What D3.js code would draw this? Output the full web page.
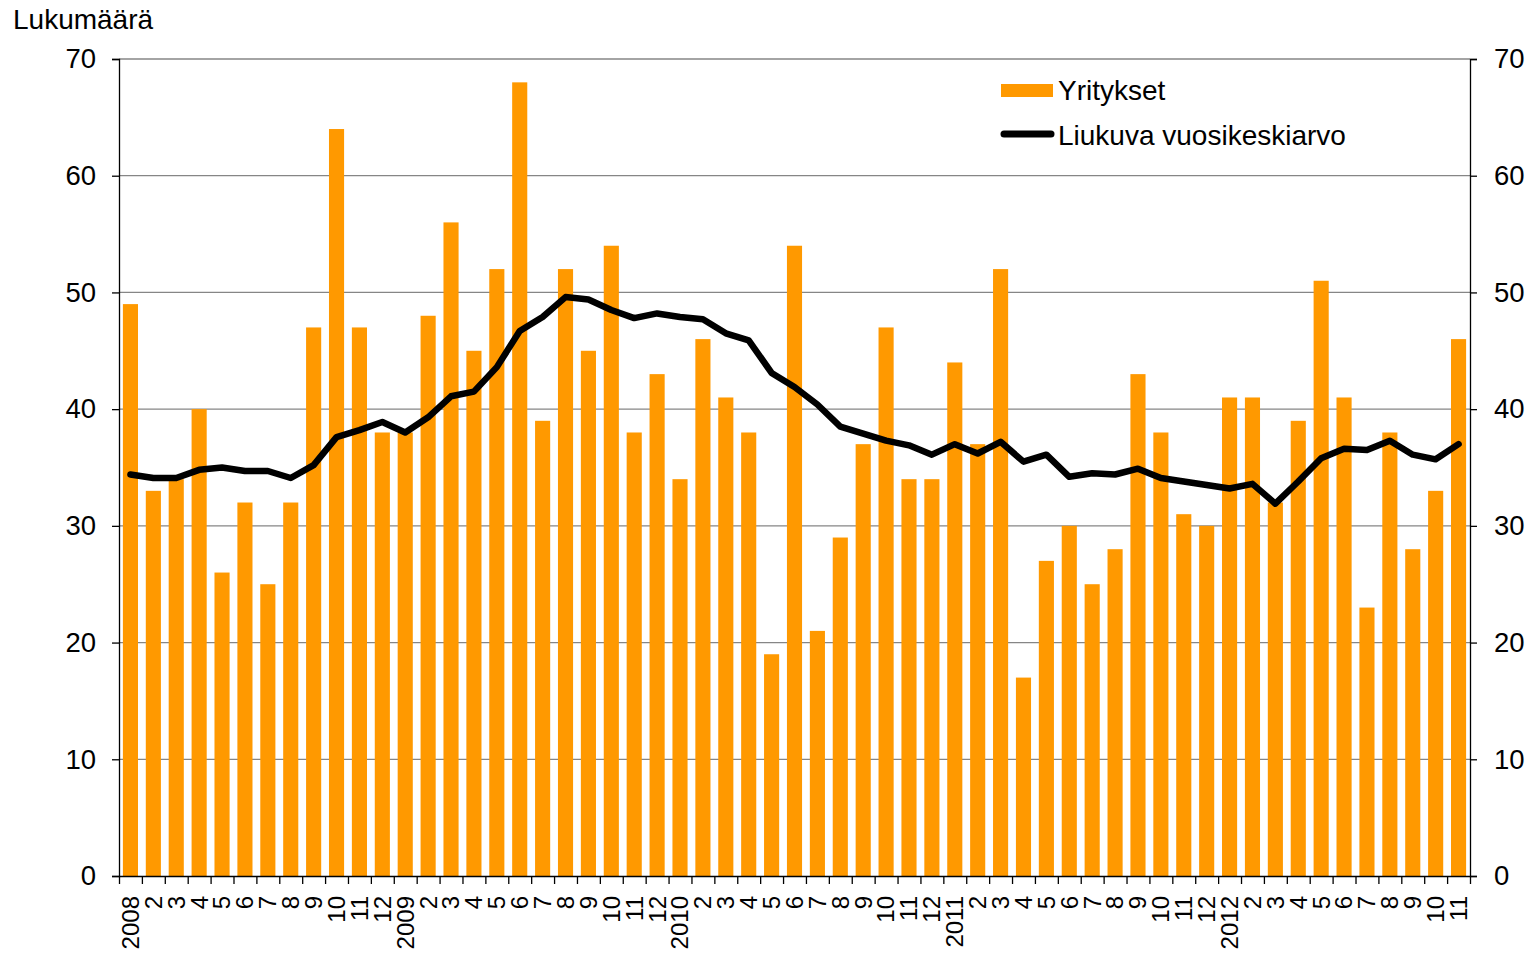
<!DOCTYPE html>
<html>
<head>
<meta charset="utf-8">
<script src="https://cdn.jsdelivr.net/npm/d3@7"></script>
<style>
  body { margin: 0; background: #fff; }
  text { font-family: "Liberation Sans", Arial, sans-serif; }
</style>
</head>
<body>
<div id="chart"></div>
<script>
// Data
var monthLabels = ["2008","2","3","4","5","6","7","8","9","10","11","12",
                   "2009","2","3","4","5","6","7","8","9","10","11","12",
                   "2010","2","3","4","5","6","7","8","9","10","11","12",
                   "2011","2","3","4","5","6","7","8","9","10","11","12",
                   "2012","2","3","4","5","6","7","8","9","10","11"];

var yritykset = [49,33,34,40,26,32,25,32,47,64,47,38,
                 38,48,56,45,52,68,39,52,45,54,38,43,
                 34,46,41,38,19,54,21,29,37,47,34,34,
                 44,37,52,17,27,30,25,28,43,38,31,30,
                 41,41,32,39,51,41,23,38,28,33,46];

var liukuva = [34.4,34.1,34.1,34.8,35.0,34.7,34.7,34.1,35.2,37.6,38.2,38.9,
               38.0,39.3,41.1,41.5,43.6,46.7,47.9,49.6,49.4,48.5,47.8,48.2,
               47.9,47.7,46.5,45.9,43.1,41.9,40.4,38.5,37.9,37.3,36.9,36.1,
               37.0,36.2,37.2,35.5,36.1,34.2,34.5,34.4,34.9,34.1,33.8,33.5,
               33.2,33.6,31.9,33.8,35.8,36.6,36.5,37.3,36.1,35.7,37.0];

var yTicks = [0,10,20,30,40,50,60,70];
var seriesNames = ["Yritykset", "Liukuva vuosikeskiarvo"];

// Size
var svgWidth = 1535;
var svgHeight = 953;
var margin = { top: 59, right: 65, bottom: 77, left: 119 };
var width = svgWidth - margin.left - margin.right;
var height = svgHeight - margin.top - margin.bottom;

var svg = d3.select("#chart")
    .append("svg")
    .attr("width", svgWidth)
    .attr("height", svgHeight);

var chartGroup = svg.append("g")
    .attr("transform", `translate(${margin.left}, ${margin.top})`);

// Scales
var idx = d3.range(yritykset.length);
var xBand = d3.scaleBand()
    .domain(idx)
    .range([0, width])
    .paddingInner(0.34)
    .paddingOuter(0.17);

var xEdge = d3.scaleLinear()
    .domain([0, yritykset.length])
    .range([0, width]);

var yScale = d3.scaleLinear()
    .domain([0, 70])
    .range([height, 0]);

// Gridlines
chartGroup.append("g")
    .selectAll("line")
    .data(yTicks.filter(d => d > 0))
    .enter()
    .append("line")
    .attr("x1", 0)
    .attr("x2", width)
    .attr("y1", d => yScale(d))
    .attr("y2", d => yScale(d))
    .attr("stroke", "#868686")
    .attr("stroke-width", 1.3);

// Bars
chartGroup.append("g")
    .selectAll("rect")
    .data(yritykset)
    .enter()
    .append("rect")
    .attr("x", (d, i) => xBand(i))
    .attr("width", xBand.bandwidth())
    .attr("y", d => yScale(d))
    .attr("height", d => height - yScale(d))
    .attr("fill", "#FF9900");

// Line
var line = d3.line()
    .x((d, i) => xBand(i) + xBand.bandwidth() / 2)
    .y(d => yScale(d));

chartGroup.append("path")
    .datum(liukuva)
    .attr("d", line)
    .attr("fill", "none")
    .attr("stroke", "#000")
    .attr("stroke-width", 6.5)
    .attr("stroke-linejoin", "round")
    .attr("stroke-linecap", "round");

// Axes
var leftAxis = d3.axisLeft(yScale).tickValues(yTicks).tickSize(7).tickPadding(16);
var rightAxis = d3.axisRight(yScale).tickValues(yTicks).tickSize(7).tickPadding(17);

var gLeft = chartGroup.append("g").call(leftAxis);
var gRight = chartGroup.append("g")
    .attr("transform", `translate(${width}, 0)`)
    .call(rightAxis);

[gLeft, gRight].forEach(g => {
    g.select(".domain").attr("stroke", "#000").attr("stroke-width", 1.3);
    g.selectAll(".tick line").attr("stroke", "#000").attr("stroke-width", 1.3);
    g.selectAll("text")
        .attr("font-size", "27.5px")
        .attr("fill", "#000")
        .style("font-family", "'Liberation Sans', Arial, sans-serif");
});

// Bottom ticks at category edges
var edgeAxis = d3.axisBottom(xEdge)
    .tickValues(d3.range(yritykset.length + 1))
    .tickFormat("")
    .tickSize(8)
    .tickSizeOuter(0);

var gEdge = chartGroup.append("g")
    .attr("transform", `translate(0, ${height})`)
    .call(edgeAxis);
gEdge.select(".domain").attr("stroke", "#000").attr("stroke-width", 1.5);
gEdge.selectAll(".tick line").attr("stroke", "#000").attr("stroke-width", 1.3);

// Bottom labels
var labelAxis = d3.axisBottom(xBand)
    .tickFormat(i => monthLabels[i])
    .tickSize(0)
    .tickPadding(0);

var gLabels = chartGroup.append("g")
    .attr("transform", `translate(0, ${height})`)
    .call(labelAxis);
gLabels.select(".domain").remove();
gLabels.selectAll("text")
    .attr("font-size", "24px")
    .attr("fill", "#000")
    .style("font-family", "'Liberation Sans', Arial, sans-serif")
    .attr("text-anchor", "end")
    .attr("x", 0)
    .attr("y", 0)
    .attr("dy", "0.35em")
    .attr("transform", "translate(0, 20) rotate(-90)");

// Title
svg.append("text")
    .attr("x", 13)
    .attr("y", 29)
    .attr("font-size", "28px")
    .attr("fill", "#000")
    .text("Lukumäärä");

// Legend
var legend = svg.append("g");
legend.append("rect")
    .attr("x", 1001)
    .attr("y", 84)
    .attr("width", 52)
    .attr("height", 13)
    .attr("fill", "#FF9900");
legend.append("text")
    .attr("x", 1058)
    .attr("y", 100)
    .attr("font-size", "28px")
    .attr("fill", "#000")
    .text(seriesNames[0]);
legend.append("line")
    .attr("x1", 1004)
    .attr("x2", 1051)
    .attr("y1", 134)
    .attr("y2", 134)
    .attr("stroke", "#000")
    .attr("stroke-width", 7)
    .attr("stroke-linecap", "round");
legend.append("text")
    .attr("x", 1058)
    .attr("y", 145)
    .attr("font-size", "28px")
    .attr("fill", "#000")
    .text(seriesNames[1]);
</script>
</body>
</html>
